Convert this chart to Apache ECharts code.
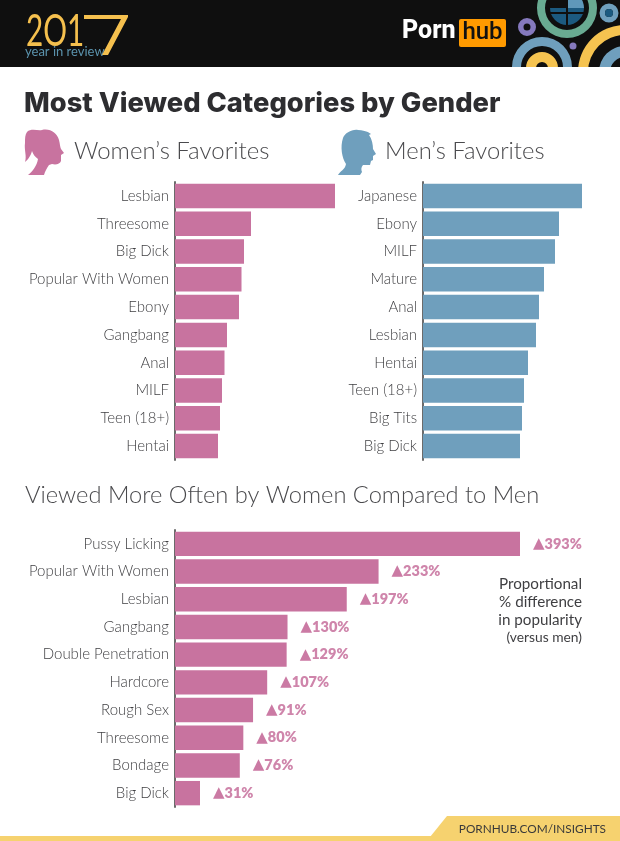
<!DOCTYPE html>
<html><head><meta charset="utf-8">
<style>html,body{margin:0;padding:0;background:#fff}#c{width:620px;height:841px}</style>
<script src="https://cdn.jsdelivr.net/npm/echarts@6/dist/echarts.min.js"></script>
</head><body><div id="c"></div>
<script>
const womenCats=['Lesbian','Threesome','Big Dick','Popular With Women','Ebony','Gangbang','Anal','MILF','Teen (18+)','Hentai'];
const womenVals=[160,76,69,66.5,64,52,49.5,47,45,43];
const menCats=['Japanese','Ebony','MILF','Mature','Anal','Lesbian','Hentai','Teen (18+)','Big Tits','Big Dick'];
const menVals=[159,136,132,121,116,113,105,101,99,97];
const diffCats=['Pussy Licking','Popular With Women','Lesbian','Gangbang','Double Penetration','Hardcore','Rough Sex','Threesome','Bondage','Big Dick'];
const diffVals=[393,233,197,130,129,107,91,80,76,31];

const PINK='#c8739f',BLUE='#6f9fbd',TXT='#3f3f42',F='Lato';
echarts.graphic.registerShape('womanHead',echarts.graphic.extendPath('M27 132C31 128 38 131 42 130C50 128 57 133 59 140C60 144 60 147 61 149L64 153L61 155L61 161C60 164 56 165 52 164L49 165C47 168 45 171 44 175L28 175C32 172 37 166 38 159C35 157 33 154 32 151C31 155 28 160 25 162C27 156 24 150 25 143C25 138 25 135 27 132Z'));
echarts.graphic.registerShape('manHead',echarts.graphic.extendPath('M343 138C345 133 352 129 358 130C362 130 367 131 371 134L369 135C372 139 373 145 373 149L376 154L373 156L373 160L371 161L370 165L363 165C361 167 361 170 362 172L360 175L338 175C340 171 345 170 346 164C342 158 340 147 343 138Z'));
const grids=[
 {left:175,top:182,width:160,height:278},
 {left:423,top:182,width:159,height:278},
 {left:175,top:530,width:345,height:277}
];
const xA=(i,min,max)=>({type:'value',gridIndex:i,min:min,max:max,show:false});
const yA=(i,cats)=>({type:'category',gridIndex:i,data:cats,inverse:true,
  axisLine:{lineStyle:{color:'#6b6b6b',width:2}},axisTick:{show:false},
  axisLabel:{color:TXT,fontFamily:F,fontWeight:300,fontSize:15,margin:6}});
const ser=(i,vals,color,label)=>({type:'bar',xAxisIndex:i,yAxisIndex:i,data:vals,barCategoryGap:'12%',
  itemStyle:{color:color},silent:true,label:label||{show:false}});

const ring=(cx,cy,r,r0,color)=>({type:'ring',shape:{cx,cy,r,r0},style:{fill:color}});
const disc=(cx,cy,r,color)=>({type:'circle',shape:{cx,cy,r},style:{fill:color}});
const text=(x,y,t,size,color,weight,align,extra)=>Object.assign({type:'text',x,y,style:Object.assign({text:t,fontSize:size,fill:color,
  fontFamily:F,fontWeight:weight||400,textAlign:align||'left',textVerticalAlign:'middle'},extra||{})});

const graphic=[
 {type:'rect',shape:{x:0,y:0,width:620,height:67},style:{fill:'#0f0f0f'}},
 ring(567,8,30,22,'#69ab92'),
 {type:'sector',shape:{cx:567,cy:8,r:17,r0:0,startAngle:0,endAngle:Math.PI},style:{fill:'#1c5a80'}},
 {type:'sector',shape:{cx:567,cy:8,r:17,r0:0,startAngle:-Math.PI/2,endAngle:0},style:{fill:'#5f98ba'}},
 {type:'rect',shape:{x:566,y:-10,width:2,height:36},style:{fill:'#0f0f0f'}},
 {type:'rect',shape:{x:550,y:12,width:34,height:2},style:{fill:'#0f0f0f'}},
 ring(609,13,9.5,4,'#6f9fbd'),disc(609,13,4,'#1c5a80'),
 ring(527,27,9,3.5,'#8579bd'),
 disc(573,46,3.5,'#8579bd'),
 ring(542,67,30,21,'#6f9fbd'),
 ring(542,68,16,6,'#f5c350'),
 ring(625,72,47,37,'#f5c350'),
 ring(625,72,26,15,'#6f9fbd'),
 {type:'rect',shape:{x:0,y:67,width:620,height:774},style:{fill:'#fff'}},
 Object.assign(text(26,31,'2O1',45,'#f5c04e',400,'left'),{scaleX:0.66}),
 text(25,52,'year in review',13,'#5b93ad',400),
 {type:'polygon',shape:{points:[[84,15],[128,15],[128,17],[108,55],[102,55],[121,19],[84,19]]},style:{fill:'#f5c04e'}},
 text(402,32,'Porn',25,'#fff',800,'left',{fontFamily:'Roboto'}),
 {type:'rect',shape:{x:459,y:19,width:47,height:28,r:2},style:{fill:'#ff9a00'}},
 text(482.5,33,'hub',24,'#111',500,'center',{fontFamily:'Roboto'}),
 text(24,104,'Most Viewed Categories by Gender',27.3,'#2d2d30',800,'left',{fontFamily:'Inter'}),
 {type:'womanHead',style:{fill:PINK}},
 {type:'manHead',style:{fill:BLUE}},
 text(74,151,"Women’s Favorites",24,'#4a4a4d',300),
 text(385,151,"Men’s Favorites",23.8,'#4a4a4d',300),
 text(25,495,'Viewed More Often by Women Compared to Men',23.7,'#4a4a4d',300),
 text(582,584,'Proportional',15.2,TXT,400,'right'),
 text(582,602,'% difference',15.2,TXT,400,'right'),
 text(582,620,'in popularity',15.2,TXT,400,'right'),
 text(582,638,'(versus men)',13.8,TXT,400,'right'),
 {type:'rect',shape:{x:0,y:836,width:620,height:5},style:{fill:'#f6d26f'}},
 {type:'polygon',shape:{points:[[430,837],[447,816],[620,816],[620,837]]},style:{fill:'#f6d26f'}},
 text(606,829,'PORNHUB.COM/INSIGHTS',11.8,'#3a3a3a',400,'right')
];

const chart=echarts.init(document.getElementById('c'),null,{renderer:'canvas'});
chart.setOption({animation:false,backgroundColor:'#fff',
  grid:grids,
  xAxis:[xA(0,0,160),xA(1,0,159),xA(2,2.7,393)],
  yAxis:[yA(0,womenCats),yA(1,menCats),yA(2,diffCats)],
  graphic:{elements:graphic.map(g=>Object.assign({silent:true,z:-1},g))},
  series:[ser(0,womenVals,PINK),ser(1,menVals,BLUE),
    ser(2,diffVals,PINK,{show:true,position:'right',distance:13,
      formatter:p=>'{t|▲}{v|'+p.value+'%}',
      rich:{t:{color:'#cb7aa4',fontFamily:'DejaVu Sans',fontSize:15},
            v:{color:'#cf85ab',fontFamily:F,fontWeight:800,fontSize:14.5}}})]
});
</script></body></html>
